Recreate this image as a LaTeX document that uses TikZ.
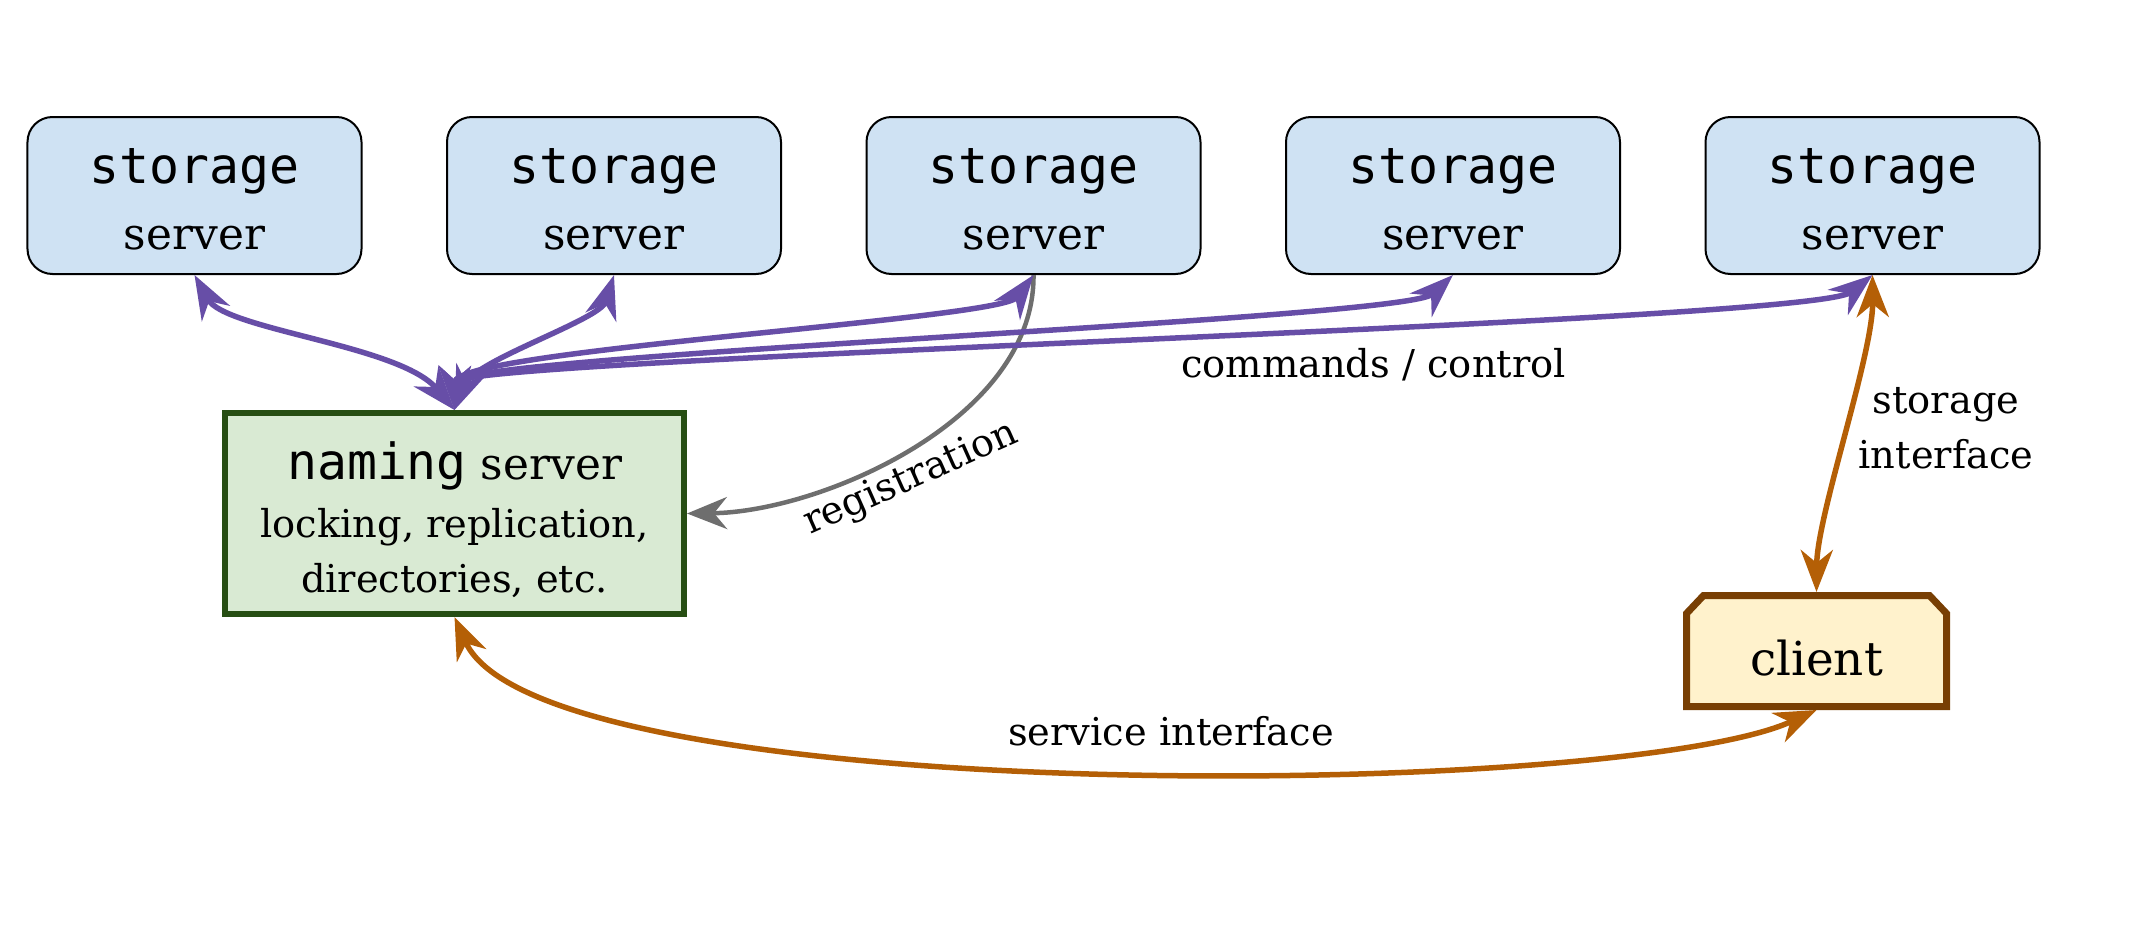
\documentclass[tikz,border=0pt]{standalone}
\usepackage{fontspec}
\setmainfont{DejaVu Serif}
\newfontfamily\monofam{DejaVu Sans Mono}
\usetikzlibrary{arrows.meta}
\definecolor{sbfill}{HTML}{CFE2F3}
\definecolor{nsfill}{HTML}{D9EAD3}
\definecolor{nsdraw}{HTML}{274E13}
\definecolor{clfill}{HTML}{FFF2CC}
\definecolor{cldraw}{HTML}{783F04}
\definecolor{purp}{HTML}{674EA7}
\definecolor{orng}{HTML}{B45F06}
\definecolor{gry}{HTML}{6E6E6E}
\begin{document}
\begin{tikzpicture}[x=1bp,y=-1bp,
  sbox/.style={draw=black, line width=2bp, fill=sbfill, rounded corners=25bp,
    minimum width=334bp, minimum height=157bp, inner sep=0pt},
  nbox/.style={draw=nsdraw, line width=6bp, fill=nsfill,
    minimum width=459bp, minimum height=201bp, inner sep=0pt},
  cshape/.style={draw=cldraw, line width=7bp, fill=clfill, line join=miter},
  cbox/.style={minimum width=267bp, minimum height=118bp, inner sep=0pt, outer sep=0pt},
  monotxt/.style={font=\monofam\fontsize{50}{60}\selectfont, anchor=base, inner sep=0pt},
  sertxt/.style={font=\fontsize{44}{52}\selectfont, anchor=base, inner sep=0pt},
  lbltxt/.style={font=\fontsize{38.5}{55}\selectfont, inner sep=0pt},
  pconn/.style={draw=purp, line width=5.5bp, <->,
    >={Stealth[length=44bp,width=32bp,inset=14bp]}},
  oconn/.style={draw=orng, line width=5.5bp, <->,
    >={Stealth[length=42bp,width=32bp,inset=13bp]}},
  gconn/.style={draw=gry, line width=4.5bp, ->,
    >={Stealth[length=40bp,width=32bp,inset=13bp]}}
]
\useasboundingbox (0,0) rectangle (2148,940);

% storage servers
\foreach \i/\x in {1/194.5, 2/614, 3/1033.5, 4/1453, 5/1872.5} {
  \node[sbox] (s\i) at (\x,195.5) {};
  \node[monotxt] (st\i) at (\x,183) {storage};
  \node[sertxt] (sv\i) at (\x,249) {server};
}

% naming server
\node[nbox] (n) at (454.5,513.5) {};
\node[sertxt] (n1) at (454.5,479) {{\monofam\fontsize{50}{60}\selectfont naming} server};
\node[lbltxt, anchor=base] (n2) at (454.5,537) {locking, replication,};
\node[lbltxt, anchor=base] (n3) at (454.5,592) {directories, etc.};

% client (top corners cut)
\draw[cshape] (1686.5,706.5) -- (1686.5,613.5) -- (1703.5,595.5) -- (1929.5,595.5)
  -- (1946.5,613.5) -- (1946.5,706.5) -- cycle;
\node[cbox] (c) at (1816.5,651) {};
\node[font=\fontsize{47}{55}\selectfont, anchor=base, inner sep=0pt] (ct) at (1816.5,675) {client};

% labels
\node[lbltxt, anchor=base] (lcc) at (1373.5,377) {commands / control};
\node[lbltxt, anchor=base] (lsv) at (1171,745) {service interface};
\node[lbltxt, anchor=base] (lsi1) at (1946,413) {storage};
\node[lbltxt, anchor=base] (lsi2) at (1946,468) {interface};
\node[lbltxt, rotate=24] (lrg) at (911,479) {registration};

% registration
\draw[gconn] (s3.south) .. controls (1035,420) and (820,512) .. (n.east);

% commands / control
\draw[pconn] (n.north) .. controls (400,345) and (225,330) .. (s1.south);
\draw[pconn] (n.north) .. controls (475,360) and (600,320) .. (s2.south);
\draw[pconn] (n.north) .. controls (455,350) and (1000,320) .. (s3.south);
\draw[pconn] (n.north) .. controls (455,355) and (1405,320) .. (s4.south);
\draw[pconn] (n.north) .. controls (455,358) and (1812,323) .. (s5.south);

% storage interface and service interface
\draw[oconn] (s5.south) .. controls (1873,355) and (1817,515) .. (c.north);
\draw[oconn] (n.south) .. controls (540,810) and (1620,800) .. (c.south);
\end{tikzpicture}
\end{document}
